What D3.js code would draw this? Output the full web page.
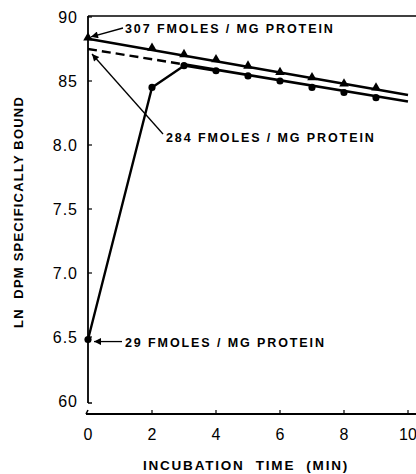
<!DOCTYPE html>
<html>
<head>
<meta charset="utf-8">
<script src="https://cdn.jsdelivr.net/npm/d3@7"></script>
<style>
  body { margin: 0; background: #fff; }
  svg { display: block; font-family: "Liberation Sans", Arial, sans-serif; }
</style>
</head>
<body>
<div id="chart"></div>
<script>
'use strict';
// values
var times = [0, 2, 3, 4, 5, 6, 7, 8, 9];
var upperPoints = [8.83, 8.75, 8.70, 8.66, 8.61, 8.56, 8.52, 8.47, 8.44];
var lowerPoints = [6.48, 8.45, 8.62, 8.58, 8.54, 8.50, 8.45, 8.41, 8.37];
var upperFitT = [0, 10];
var upperFit = [8.83, 8.39];
var lowerFitT = [3, 10];
var lowerFit = [8.63, 8.34];
var lowerDashT = [0, 3];
var lowerDash = [8.75, 8.63];
var xTicks = [0, 2, 4, 6, 8, 10];
var xTickLabels = ['0', '2', '4', '6', '8', '10'];
var yTicks = [6.0, 6.5, 7.0, 7.5, 8.0, 8.5, 9.0];
var yTickLabels = ['60', '6.5', '7.0', '7.5', '8.0', '85', '90'];

var W = 416, H = 474;
var x = d3.scaleLinear().domain([0, 10]).range([88, 408]);
var y = d3.scaleLinear().domain([6, 9]).range([401, 17]);
var axisY = 414;

var svg = d3.select('#chart').append('svg')
  .attr('width', W).attr('height', H);

svg.append('defs').append('marker')
  .attr('id', 'arrow')
  .attr('viewBox', '0 0 10 10')
  .attr('refX', 10).attr('refY', 5)
  .attr('markerWidth', 9).attr('markerHeight', 7)
  .attr('markerUnits', 'userSpaceOnUse')
  .attr('orient', 'auto')
  .append('path').attr('d', 'M0,0 L10,5 L0,10 z').attr('fill', '#000');

// frame: left axis, top line, bottom axis with break
var ax = svg.append('g').attr('stroke', '#000').attr('fill', 'none');
ax.append('line').attr('x1', x(0)).attr('x2', x(0))
  .attr('y1', y(9) - 1).attr('y2', y(6) + 2).attr('stroke-width', 1.8);
ax.append('path').attr('d', 'M' + x(0) + ',' + (y(6) + 2) + ' h4')
  .attr('stroke-width', 1.5);
ax.append('line').attr('x1', x(0)).attr('x2', W)
  .attr('y1', y(9) - 1).attr('y2', y(9) - 1).attr('stroke-width', 1.5);
ax.append('line').attr('x1', x(0) - 2).attr('x2', W)
  .attr('y1', axisY).attr('y2', axisY).attr('stroke-width', 1.8);
ax.append('path').attr('d', 'M' + (x(0) - 2) + ',' + axisY + ' l2,-4')
  .attr('stroke-width', 1.5);

// ticks
ax.selectAll('.yt').data(yTicks.slice(1)).enter().append('line')
  .attr('x1', x(0)).attr('x2', x(0) + 4)
  .attr('y1', function(d) { return y(d); })
  .attr('y2', function(d) { return y(d); })
  .attr('stroke-width', 1.2);
ax.selectAll('.xt').data(xTicks.slice(1)).enter().append('line')
  .attr('x1', function(d) { return x(d); })
  .attr('x2', function(d) { return x(d); })
  .attr('y1', axisY).attr('y2', axisY - 4)
  .attr('stroke-width', 1.2);

var lbl = svg.append('g').attr('fill', '#000').style('font-size', '16px');
lbl.selectAll('.yl').data(yTicks).enter().append('text')
  .attr('x', 78)
  .attr('y', function(d) { return y(d) + 6; })
  .attr('text-anchor', 'end')
  .style('letter-spacing', '1px')
  .text(function(d, i) { return yTickLabels[i]; });
lbl.selectAll('.xl').data(xTicks).enter().append('text')
  .attr('x', function(d) { return x(d); })
  .attr('y', 440)
  .attr('text-anchor', 'middle')
  .text(function(d, i) { return xTickLabels[i]; });

// axis titles
svg.append('text')
  .attr('x', 246).attr('y', 470)
  .attr('text-anchor', 'middle')
  .style('font-size', '13.5px').style('font-weight', 'bold')
  .style('letter-spacing', '1.8px')
  .attr('xml:space', 'preserve')
  .text('INCUBATION  TIME  (MIN)');
svg.append('text')
  .attr('transform', 'translate(23,212) rotate(-90)')
  .attr('text-anchor', 'middle')
  .style('font-size', '13px').style('font-weight', 'bold')
  .style('letter-spacing', '1.2px')
  .attr('xml:space', 'preserve')
  .text('LN  DPM SPECIFICALLY BOUND');

// fitted lines
var line = d3.line()
  .x(function(d) { return x(d[0]); })
  .y(function(d) { return y(d[1]); });

svg.append('path').datum(d3.zip(upperFitT, upperFit))
  .attr('d', line).attr('fill', 'none').attr('stroke', '#000').attr('stroke-width', 2.6);
svg.append('path').datum(d3.zip(lowerFitT, lowerFit))
  .attr('d', line).attr('fill', 'none').attr('stroke', '#000').attr('stroke-width', 2.6);
svg.append('path').datum(d3.zip(lowerDashT, lowerDash))
  .attr('d', line).attr('fill', 'none').attr('stroke', '#000').attr('stroke-width', 2.4)
  .attr('stroke-dasharray', '9,5');

// rising data series
svg.append('path').datum(d3.zip(times.slice(0, 4), lowerPoints.slice(0, 4)))
  .attr('d', line).attr('fill', 'none').attr('stroke', '#000').attr('stroke-width', 2.4);

// markers
svg.selectAll('.up').data(d3.zip(times, upperPoints)).enter().append('path')
  .attr('transform', function(d) { return 'translate(' + x(d[0]) + ',' + (y(d[1]) - 1) + ')'; })
  .attr('d', d3.symbol().type(d3.symbolTriangle).size(40))
  .attr('fill', '#000');
svg.selectAll('.lo').data(d3.zip(times, lowerPoints)).enter().append('path')
  .attr('transform', function(d) { return 'translate(' + x(d[0]) + ',' + y(d[1]) + ')'; })
  .attr('d', d3.symbol().type(d3.symbolCircle).size(40))
  .attr('fill', '#000');

// annotations
var notes = [
  { text: '307 FMOLES / MG PROTEIN', tx: 125, ty: 33, x1: 123, y1: 28, x2: x(0) + 3, y2: y(8.83) - 2 },
  { text: '284 FMOLES / MG PROTEIN', tx: 166, ty: 142, x1: 163, y1: 134, x2: x(0) + 4, y2: y(8.75) + 5 },
  { text: '29 FMOLES / MG PROTEIN', tx: 125, ty: 347, x1: 122, y1: y(6.48) + 2, x2: x(0) + 6, y2: y(6.48) + 2 }
];
var ng = svg.append('g');
ng.selectAll('line').data(notes).enter().append('line')
  .attr('x1', function(d) { return d.x1; }).attr('y1', function(d) { return d.y1; })
  .attr('x2', function(d) { return d.x2; }).attr('y2', function(d) { return d.y2; })
  .attr('stroke', '#000').attr('stroke-width', 1.3)
  .attr('marker-end', 'url(#arrow)');
ng.selectAll('text').data(notes).enter().append('text')
  .attr('x', function(d) { return d.tx; }).attr('y', function(d) { return d.ty; })
  .style('font-size', '12.5px').style('font-weight', 'bold')
  .style('letter-spacing', '1.9px')
  .text(function(d) { return d.text; });
</script>
</body>
</html>
